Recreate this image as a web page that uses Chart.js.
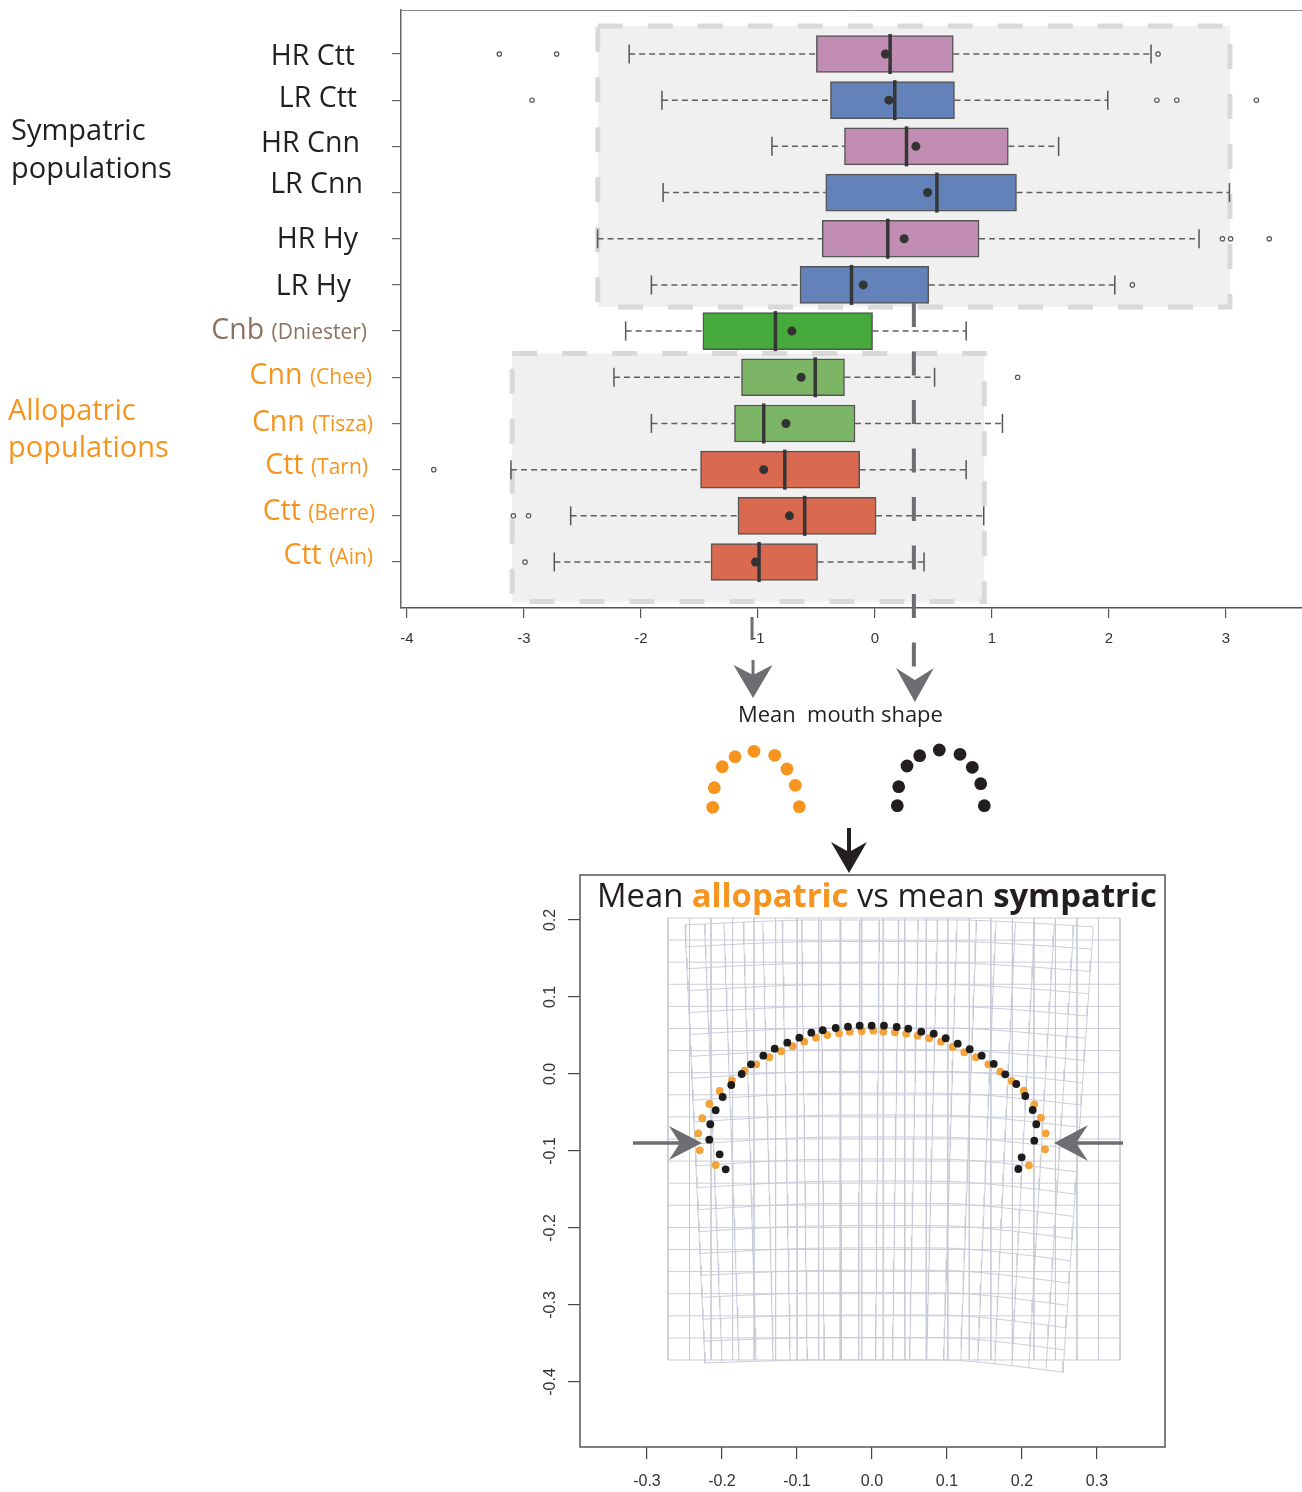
<!DOCTYPE html>
<html><head><meta charset="utf-8">
<script src="https://cdn.jsdelivr.net/npm/chart.js@4.4.0/dist/chart.umd.min.js"></script>
<style>
html,body{margin:0;padding:0;background:#fff;}
#wrap{position:relative;width:1302px;height:1492px;overflow:hidden;background:#fff;}
canvas{position:absolute;}
</style></head><body>
<div id="wrap">
<canvas id="top" width="1302" height="880" style="left:0px;top:0px"></canvas>
<canvas id="mini" width="320" height="100" style="left:690px;top:730px"></canvas>
<canvas id="bottom" width="1302" height="632" style="left:0px;top:860px"></canvas>
</div>
<script>
// ---------------- DATA : box plots ----------------
const populations = ['HR Ctt','LR Ctt','HR Cnn','LR Cnn','HR Hy','LR Hy','Cnb','Cnn','Cnn','Ctt','Ctt','Ctt'];
const sites       = ['','','','','','','(Dniester)','(Chee)','(Tisza)','(Tarn)','(Berre)','(Ain)'];
const rowGroup    = ['sym','sym','sym','sym','sym','sym','ref','allo','allo','allo','allo','allo'];
const whiskerLow  = [-2.10,-1.82,-0.88,-1.81,-2.37,-1.91,-2.13,-2.23,-1.91,-3.11,-2.60,-2.74];
const q1          = [-0.50,-0.38,-0.26,-0.42,-0.45,-0.64,-1.47,-1.14,-1.20,-1.49,-1.17,-1.40];
const median      = [ 0.13, 0.17, 0.27, 0.53, 0.11,-0.20,-0.85,-0.51,-0.95,-0.77,-0.60,-0.99];
const mean        = [ 0.09, 0.12, 0.35, 0.45, 0.25,-0.10,-0.71,-0.63,-0.76,-0.95,-0.73,-1.02];
const q3          = [ 0.67, 0.68, 1.14, 1.21, 0.89, 0.46,-0.02,-0.26,-0.17,-0.13, 0.01,-0.49];
const whiskerHigh = [ 2.36, 1.99, 1.57, 3.03, 2.77, 2.05, 0.78, 0.51, 1.09, 0.78, 0.93, 0.42];
const outliers    = [[-3.21,-2.72,2.42],[-2.93,2.41,2.58,3.26],[],[],[2.97,3.04,3.37],[2.20],[],[1.22],[],[-3.77],[-3.09,-2.96],[-2.99]];
const xTicksTop   = [-4,-3,-2,-1,0,1,2,3];
const sympatricMean  = 0.333;
const allopatricMean = -1.05;

// ---------------- DATA : landmarks ----------------
const alloX = [-0.2084,-0.2297,-0.2316,-0.2263,-0.2169,-0.2031,-0.1867,-0.1697,-0.1543,-0.1369,-0.1213,-0.1057,-0.0903,-0.0747,-0.0596,-0.0440,-0.0297,-0.0137,0.0017,
               0.0151,0.0307,0.0457,0.0609,0.0764,0.0920,0.1076,0.1231,0.1387,0.1551,0.1711,0.1863,0.2023,0.2164,0.2253,0.2316,0.2307,0.2093];
const alloY = [-0.1182,-0.0991,-0.0770,-0.0575,-0.0390,-0.0221,-0.0082,0.0043,0.0126,0.0217,0.0295,0.0360,0.0419,0.0471,0.0506,0.0529,0.0549,0.0558,0.0562,
               0.0549,0.0542,0.0523,0.0497,0.0464,0.0419,0.0351,0.0282,0.0217,0.0126,0.0030,-0.0091,-0.0217,-0.0394,-0.0568,-0.0770,-0.0978,-0.1186];
const symX  = [-0.1951,-0.2031,-0.2169,-0.2156,-0.2084,-0.1991,-0.1876,-0.1737,-0.1613,-0.1449,-0.1297,-0.1129,-0.0969,-0.0809,-0.0657,-0.0484,-0.0320,-0.0164,-0.0004,
               0.0160,0.0329,0.0484,0.0657,0.0823,0.0983,0.1143,0.1303,0.1463,0.1623,0.1777,0.1924,0.2044,0.2143,0.2191,0.2164,0.1996,0.1951];
const symY  = [-0.1238,-0.1043,-0.0853,-0.0653,-0.0471,-0.0299,-0.0143,0.0000,0.0126,0.0238,0.0329,0.0406,0.0471,0.0536,0.0568,0.0597,0.0614,0.0627,0.0627,
               0.0627,0.0610,0.0588,0.0549,0.0523,0.0464,0.0394,0.0321,0.0238,0.0130,-0.0004,-0.0130,-0.0286,-0.0468,-0.0653,-0.0866,-0.1082,-0.1234];
const xTicksBottom = [-0.3,-0.2,-0.1,0.0,0.1,0.2,0.3];
const yTicksBottom = [0.2,0.1,0.0,-0.1,-0.2,-0.3,-0.4];

// mini mouth shapes (schematic units)
const miniAlloX = [22.7,24.3,32.3,45,64,84.7,97,105.3,109.3];
const miniAlloY = [77.3,57.7,36.7,26.7,21.3,25.3,39,55.3,76.7];
const miniSymX  = [207.3,208.7,217,229.7,249.3,270,282.3,290.7,294.3];
const miniSymY  = [75.7,56.7,36,25.7,20,24.3,37.3,53.7,75.7];

// ---------------- styling ----------------
const FONT = '"Open Sans", "Noto Sans", sans-serif';
const AXFONT = '"Liberation Sans Narrow", "Liberation Sans", Arial, sans-serif';
const ORANGE = '#f7941d', DARK = '#231f20', BROWN = '#8c7261', ARROW = '#6d6e71';
const groupColor = {sym: DARK, ref: BROWN, allo: ORANGE};
const boxColorsByName = {HR:'#c18db2', LR:'#6382ba', Cnb:'#45aa3b', Cnn:'#7cb565', Ctt:'#d9694f'};
const labelRight = [355,357,360,363,358,351,367,372,373,368,375,373];
const labelNudge = [1,-3,-4,-10,-1,0,-2,-3,-2,-6,-6,-8];
const panels = [
  {x0:-2.368, x1:3.034, y0:0.394, y1:6.478},
  {x0:-3.100, x1:0.935, y0:7.485, y1:12.856}
];

const rowIdx = populations.map((_, i) => i + 1);
const boxColors = populations.map((p, i) => {
  if (rowGroup[i] === 'sym') return boxColorsByName[p.slice(0, 2)];
  return boxColorsByName[p];
});

const whiskerPts = [];
rowIdx.forEach((y, i) => {
  whiskerPts.push({x: whiskerLow[i], y}, {x: q1[i], y}, {x: NaN, y: NaN},
                  {x: q3[i], y}, {x: whiskerHigh[i], y}, {x: NaN, y: NaN});
});
const capPts = [];
rowIdx.forEach((y, i) => { capPts.push({x: whiskerLow[i], y}, {x: whiskerHigh[i], y}); });
const medianPts = rowIdx.map((y, i) => ({x: median[i], y}));
const meanPts = rowIdx.map((y, i) => ({x: mean[i], y}));
const outlierPts = [];
rowIdx.forEach((y, i) => outliers[i].forEach(v => outlierPts.push({x: v, y})));

function arrowHead(ctx, tx, ty, dx, dy, len, half, notch) {
  const px = -dy, py = dx;
  const bx = tx - dx * len, by = ty - dy * len;
  ctx.beginPath();
  ctx.moveTo(tx, ty);
  ctx.lineTo(bx + px * half, by + py * half);
  ctx.lineTo(bx + dx * notch, by + dy * notch);
  ctx.lineTo(bx - px * half, by - py * half);
  ctx.closePath();
  ctx.fill();
}

const topPlugin = {
  id: 'topDecor',
  beforeDatasetsDraw(chart) {
    const {ctx, scales: {x, y}} = chart;
    ctx.save();
    panels.forEach(p => {
      const l = x.getPixelForValue(p.x0), r = x.getPixelForValue(p.x1);
      const t = y.getPixelForValue(p.y0), b = y.getPixelForValue(p.y1);
      ctx.fillStyle = '#f0f0f0';
      ctx.fillRect(l, t, r - l, b - t);
      ctx.setLineDash([25, 25]);
      ctx.strokeStyle = '#d9d9d9';
      ctx.lineWidth = 5;
      ctx.strokeRect(l, t, r - l, b - t);
    });
    ctx.restore();
  },
  afterDraw(chart) {
    const {ctx, chartArea: ca, scales: {x, y}} = chart;
    ctx.save();
    ctx.strokeStyle = '#8a8a8a'; ctx.lineWidth = 1;
    ctx.beginPath(); ctx.moveTo(ca.left, ca.top + 0.5); ctx.lineTo(ca.right, ca.top + 0.5); ctx.stroke();

    ctx.textAlign = 'left'; ctx.textBaseline = 'alphabetic';
    populations.forEach((p, i) => {
      const base = y.getPixelForValue(i + 1) + 10 + labelNudge[i];
      const R = labelRight[i];
      ctx.fillStyle = groupColor[rowGroup[i]];
      ctx.font = '21px ' + FONT;
      const pw = sites[i] ? ctx.measureText(sites[i]).width : 0;
      ctx.font = '28.5px ' + FONT;
      const sw = sites[i] ? ctx.measureText(' ').width : 0;
      const mw = ctx.measureText(p).width;
      ctx.fillText(p, R - pw - sw - mw, base);
      if (sites[i]) { ctx.font = '21px ' + FONT; ctx.fillText(sites[i], R - pw, base); }
    });
    ctx.font = '29px ' + FONT;
    ctx.fillStyle = DARK;
    ctx.fillText('Sympatric', 11, 140);
    ctx.fillText('populations', 11, 178);
    ctx.fillStyle = ORANGE;
    ctx.fillText('Allopatric', 8, 420);
    ctx.fillText('populations', 8, 457);

    const sx = x.getPixelForValue(sympatricMean);
    ctx.strokeStyle = ARROW; ctx.fillStyle = ARROW;
    ctx.lineWidth = 4;
    ctx.setLineDash([24, 24.5]);
    ctx.beginPath(); ctx.moveTo(sx, 303); ctx.lineTo(sx, 667); ctx.stroke();
    ctx.setLineDash([]);
    arrowHead(ctx, sx + 1, 702, 0, 1, 34, 19, 12);
    const ax = x.getPixelForValue(allopatricMean);
    ctx.lineWidth = 3;
    ctx.beginPath(); ctx.moveTo(ax, 617); ctx.lineTo(ax, 640); ctx.stroke();
    ctx.beginPath(); ctx.moveTo(ax + 1, 660); ctx.lineTo(ax + 1, 676); ctx.stroke();
    arrowHead(ctx, ax + 1, 698, 0, 1, 33, 19.5, 10);

    ctx.fillStyle = DARK;
    ctx.font = '21px ' + FONT;
    const txt = 'Mean  mouth shape';
    const w = ctx.measureText(txt).width;
    const fs = 21 * 205 / w;
    ctx.font = fs.toFixed(2) + 'px ' + FONT;
    ctx.fillText(txt, 738, 722);

    ctx.strokeStyle = DARK; ctx.fillStyle = DARK; ctx.lineWidth = 4;
    ctx.beginPath(); ctx.moveTo(849, 828); ctx.lineTo(849, 852); ctx.stroke();
    arrowHead(ctx, 849, 873, 0, 1, 31, 18, 10);
    ctx.restore();
  }
};

new Chart(document.getElementById('top'), {
  data: {
    datasets: [
      {type: 'bar', indexAxis: 'y', data: rowIdx.map((yv, i) => ({y: yv, x: [q1[i], q3[i]]})),
       backgroundColor: boxColors, borderColor: '#555', borderWidth: 1.5, borderSkipped: false,
       barThickness: 37, order: 9},
      {type: 'line', data: whiskerPts, borderColor: '#5f5f5f', borderWidth: 1.5, borderDash: [6, 4],
       pointRadius: 0, fill: false, spanGaps: false, order: 10},
      {type: 'scatter', data: capPts, pointStyle: 'line', pointRotation: 90, pointRadius: 9.5,
       pointBorderColor: '#555', borderColor: '#555', pointBorderWidth: 1.5, order: 4},
      {type: 'scatter', data: medianPts, pointStyle: 'line', pointRotation: 90, pointRadius: 20,
       pointBorderColor: '#363636', borderColor: '#363636', pointBorderWidth: 3.5, order: 3},
      {type: 'scatter', data: meanPts, pointStyle: 'circle', pointRadius: 4.5,
       pointBackgroundColor: '#333333', backgroundColor: '#333333', pointBorderWidth: 0, order: 2},
      {type: 'scatter', data: outlierPts, pointStyle: 'circle', pointRadius: 2.2,
       pointBackgroundColor: '#ffffff', pointBorderColor: '#555', borderColor: '#555', pointBorderWidth: 1.2, order: 1}
    ]
  },
  options: {
    responsive: false, animation: false, devicePixelRatio: 1, events: [],
    layout: {autoPadding: false, padding: {left: 392, top: 10, right: 0, bottom: 232}},
    plugins: {legend: {display: false}, tooltip: {enabled: false}},
    scales: {
      x: {type: 'linear', min: -4.05, max: 3.65, offset: false,
          afterBuildTicks: s => { s.ticks = xTicksTop.map(v => ({value: v})); },
          afterFit: s => { s.height = 40; },
          grid: {offset: false, drawOnChartArea: false, drawTicks: true, tickLength: 10, color: '#555', lineWidth: 1.2},
          border: {display: true, color: '#555', width: 1.5},
          ticks: {font: {family: AXFONT, size: 15}, color: '#333', padding: 12, maxRotation: 0, autoSkip: false,
                  callback: v => String(v)}},
      y: {type: 'linear', reverse: true, min: 0.0472, max: 12.996, offset: false,
          afterBuildTicks: s => { s.ticks = rowIdx.map(v => ({value: v})); },
          afterFit: s => { s.width = 9; },
          grid: {offset: false, drawOnChartArea: false, drawTicks: true, tickLength: 9, color: '#666', lineWidth: 1.2},
          border: {display: true, color: '#666', width: 1.5},
          ticks: {display: false}}
    }
  },
  plugins: [topPlugin]
});

// ---------------- mini shapes ----------------
new Chart(document.getElementById('mini'), {
  type: 'scatter',
  data: {datasets: [
    {data: miniAlloX.map((v, i) => ({x: v, y: miniAlloY[i]})), pointRadius: 6.4, pointBackgroundColor: ORANGE, backgroundColor: ORANGE, pointBorderWidth: 0},
    {data: miniSymX.map((v, i) => ({x: v, y: miniSymY[i]})), pointRadius: 6.4, pointBackgroundColor: DARK, backgroundColor: DARK, pointBorderWidth: 0}
  ]},
  options: {
    responsive: false, animation: false, devicePixelRatio: 1, events: [],
    layout: {autoPadding: false, padding: 0},
    plugins: {legend: {display: false}, tooltip: {enabled: false}},
    scales: {x: {display: false, min: 0, max: 320}, y: {display: false, min: 0, max: 100, reverse: true}}
  }
});

// ---------------- bottom chart ----------------
const refGrid = {x0: -0.272, x1: 0.3307, y0: 0.2026, y1: -0.3714, cols: 21, rows: 20};
const warpFrame = {top: 0.2, bottom: -0.3714, leftTop: -0.2493, leftBottom: -0.2227,
                   rightTop: 0.295, rightBottom: 0.2547, leftDrop: [0.0065, 0.004], rightDrop: [0.009, 0.016],
                   arch: 0.004, cols: 21, rows: 20};
function refPoint(u, v) {
  return {x: refGrid.x0 + (refGrid.x1 - refGrid.x0) * u, y: refGrid.y0 + (refGrid.y1 - refGrid.y0) * v};
}
function warpPoint(u, v) {
  const w = warpFrame;
  const xl = w.leftTop + (w.leftBottom - w.leftTop) * v;
  const xr = w.rightTop + (w.rightBottom - w.rightTop) * v;
  const xx = xl + (xr - xl) * u;
  const yc = w.top + (w.bottom - w.top) * v;
  const dl = w.leftDrop[0] + (w.leftDrop[1] - w.leftDrop[0]) * v;
  const dr = w.rightDrop[0] + (w.rightDrop[1] - w.rightDrop[0]) * v;
  const tl = Math.max(0, (0.3 - u) / 0.3), tr = Math.max(0, (u - 0.68) / 0.32);
  const bump = w.arch * Math.sin(Math.PI * u) * Math.sin(Math.PI * v);
  return {x: xx, y: yc - dl * Math.pow(tl, 1.3) - dr * Math.pow(tr, 1.3) + bump};
}
function gridLines(fn, nc, nr, samples) {
  const pts = [];
  for (let j = 0; j <= nr; j++) {
    for (let s = 0; s <= samples; s++) pts.push(fn(s / samples, j / nr));
    pts.push({x: NaN, y: NaN});
  }
  for (let k = 0; k <= nc; k++) {
    for (let s = 0; s <= samples; s++) pts.push(fn(k / nc, s / samples));
    pts.push({x: NaN, y: NaN});
  }
  return pts;
}

const bottomPlugin = {
  id: 'bottomDecor',
  afterDatasetsDraw(chart) {
    const {ctx, scales: {x, y}} = chart;
    ctx.save();
    const ay = y.getPixelForValue(-0.0897);
    ctx.strokeStyle = ARROW; ctx.fillStyle = ARROW; ctx.lineWidth = 3.5;
    const lt = x.getPixelForValue(-0.2267), ls = x.getPixelForValue(-0.3187);
    ctx.beginPath(); ctx.moveTo(ls, ay); ctx.lineTo(lt - 22, ay); ctx.stroke();
    arrowHead(ctx, lt, ay, 1, 0, 33, 17, 11);
    const rt = x.getPixelForValue(0.2427), rs = x.getPixelForValue(0.3347);
    ctx.beginPath(); ctx.moveTo(rs, ay); ctx.lineTo(rt + 22, ay); ctx.stroke();
    arrowHead(ctx, rt, ay, -1, 0, 34, 18, 12);
    ctx.restore();
  },
  afterDraw(chart) {
    const {ctx, chartArea: ca, scales: {y}} = chart;
    ctx.save();
    ctx.strokeStyle = '#555'; ctx.lineWidth = 1.5;
    ctx.strokeRect(ca.left, ca.top, ca.right - ca.left, ca.bottom - ca.top);
    ctx.fillStyle = '#333';
    ctx.font = '16px "Liberation Sans", Arial, sans-serif';
    ctx.textAlign = 'center'; ctx.textBaseline = 'middle';
    yTicksBottom.forEach(v => {
      const py = y.getPixelForValue(v);
      ctx.save(); ctx.translate(551, py); ctx.rotate(-Math.PI / 2);
      ctx.fillText(v.toFixed(1), 0, 0);
      ctx.restore();
    });
    const parts = [
      {t: 'Mean ', b: false, c: DARK}, {t: 'allopatric', b: true, c: ORANGE},
      {t: ' vs mean ', b: false, c: DARK}, {t: 'sympatric', b: true, c: DARK}];
    const measure = fs => parts.reduce((s, p) => { ctx.font = (p.b ? 'bold ' : '') + fs + 'px ' + FONT; return s + ctx.measureText(p.t).width; }, 0);
    const fs = 34 * 560 / measure(34);
    let tx = 597;
    ctx.textAlign = 'left'; ctx.textBaseline = 'alphabetic';
    parts.forEach(p => {
      ctx.font = (p.b ? 'bold ' : '') + fs.toFixed(2) + 'px ' + FONT;
      ctx.fillStyle = p.c;
      ctx.fillText(p.t, tx, 47);
      tx += ctx.measureText(p.t).width;
    });
    ctx.restore();
  }
};

new Chart(document.getElementById('bottom'), {
  data: {datasets: [
    {type: 'line', data: gridLines(refPoint, refGrid.cols, refGrid.rows, 1), borderColor: 'rgba(200,202,215,0.95)',
     borderWidth: 1, pointRadius: 0, spanGaps: false, fill: false, order: 6},
    {type: 'line', data: gridLines(warpPoint, warpFrame.cols, warpFrame.rows, 40), borderColor: 'rgba(200,202,215,0.95)',
     borderWidth: 1, pointRadius: 0, spanGaps: false, fill: false, order: 5},
    {type: 'scatter', data: alloX.map((v, i) => ({x: v, y: alloY[i]})), pointRadius: 3.9,
     pointBackgroundColor: '#f3a33a', backgroundColor: '#f3a33a', pointBorderWidth: 0, order: 2},
    {type: 'scatter', data: symX.map((v, i) => ({x: v, y: symY[i]})), pointRadius: 3.9,
     pointBackgroundColor: '#1c1c1c', backgroundColor: '#1c1c1c', pointBorderWidth: 0, order: 1}
  ]},
  options: {
    responsive: false, animation: false, devicePixelRatio: 1, events: [],
    layout: {autoPadding: false, padding: {left: 540, right: 137, top: 15, bottom: 0}},
    plugins: {legend: {display: false}, tooltip: {enabled: false}},
    scales: {
      x: {type: 'linear', min: -0.3893, max: 0.3907,
          afterBuildTicks: s => { s.ticks = xTicksBottom.map(v => ({value: v})); },
          afterFit: s => { s.height = 45; },
          grid: {drawOnChartArea: false, drawTicks: true, tickLength: 12, color: '#444', lineWidth: 1.2},
          border: {display: false},
          ticks: {font: {family: '"Liberation Sans", Arial, sans-serif', size: 16}, color: '#333', padding: 13,
                  maxRotation: 0, autoSkip: false, callback: v => Number(v).toFixed(1)}},
      y: {type: 'linear', min: -0.4844, max: 0.2584,
          afterBuildTicks: s => { s.ticks = yTicksBottom.map(v => ({value: v})); },
          afterFit: s => { s.width = 40; },
          grid: {drawOnChartArea: false, drawTicks: true, tickLength: 12, color: '#444', lineWidth: 1.2},
          border: {display: false},
          ticks: {display: false}}
    }
  },
  plugins: [bottomPlugin]
});
</script>
</body></html>
